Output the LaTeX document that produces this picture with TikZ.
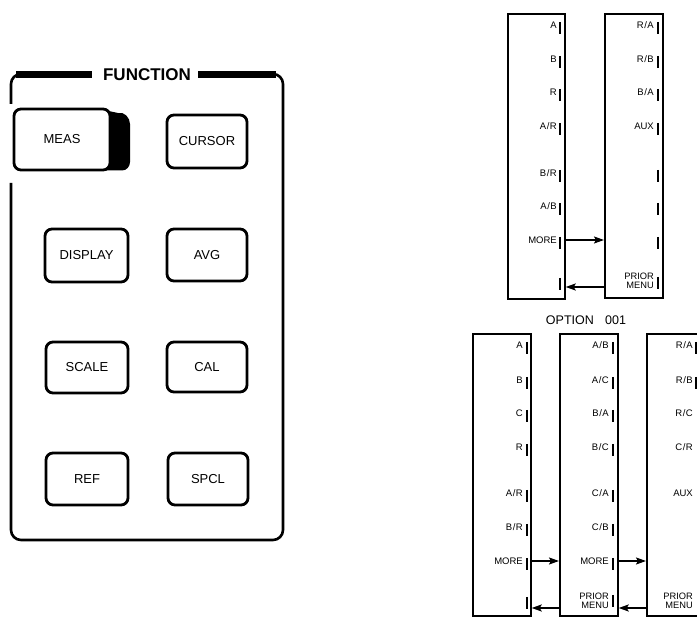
\documentclass[tikz,border=0pt]{standalone}
\usepackage{fontspec}
\setmainfont{Liberation Sans}
\usetikzlibrary{arrows.meta}
\tikzset{
  keybox/.style={draw, line width=2.8pt, rounded corners=7pt, fill=white, inner sep=0pt,
    font=\fontsize{13}{14}\selectfont},
  framepath/.style={line width=2.6pt, rounded corners=10pt},
  framebar/.style={line width=7pt},
  menubox/.style={draw, line width=1.7pt, inner sep=0pt, anchor=north west},
  lbl/.style={anchor=east, inner sep=0pt, font=\fontsize{9.5}{10}\selectfont},
  lbl2/.style={anchor=east, inner sep=0pt, align=right, font=\fontsize{9.3}{9.5}\selectfont},
  tick/.style={line width=1.1pt},
  arr/.style={line width=1.8pt, -{Stealth[length=10pt,width=7pt,inset=2pt]}},
}
\newcommand{\mysl}{\kern0.5pt/\kern0.5pt}
\begin{document}
\begin{tikzpicture}[x=1pt,y=-1pt]
\useasboundingbox (0,0) rectangle (697,617);
\begin{scope}
\clip (0,0) rectangle (697,617);
% ---------- FUNCTION panel ----------
\node[font=\bfseries\fontsize{17}{18}\selectfont, inner sep=1pt] (fn) at (147,75) {FUNCTION};
\draw[framepath] (88,74) -- (11,74) -- (11,104);
\draw[framepath] (205,74) -- (283,74) -- (283,540) -- (11,540) -- (11,183);
\draw[framebar] (fn.west) ++(-10,0) -- (16,75);
\draw[framebar] (fn.east) ++(6,0) -- (276,75);
% MEAS key with dark side
\fill (104,110) -- (118,113) to[out=15,in=90] (130,124) -- (130,162) to[out=-90,in=0] (122,170.5) -- (104,170.5) -- cycle;
\node[keybox, minimum width=96pt, minimum height=61pt] (meas) at (62,139.5) {MEAS};
\node[keybox, minimum width=80pt, minimum height=53pt] (cursor) at (207,141.5) {CURSOR};
\node[keybox, minimum width=83pt, minimum height=53pt] (display) at (86.5,255.5) {DISPLAY};
\node[keybox, minimum width=80pt, minimum height=52pt] (avg) at (207,255) {AVG};
\node[keybox, minimum width=82pt, minimum height=51pt] (scale) at (87,367.5) {SCALE};
\node[keybox, minimum width=80pt, minimum height=50pt] (cal) at (207,367) {CAL};
\node[keybox, minimum width=82pt, minimum height=52pt] (ref) at (87,479) {REF};
\node[keybox, minimum width=80pt, minimum height=52pt] (spcl) at (208,479) {SPCL};

% ---------- upper menus ----------
\node[menubox, minimum width=57pt, minimum height=285pt] (m1) at (507,13) {};
\node[menubox, minimum width=58pt, minimum height=284pt] (m2) at (604,13) {};
% menu 1 labels
\foreach \t/\y/\n in {A/25/a1, B/59/a2, R/92/a3, {A\mysl R}/126/a4, {B\mysl R}/173/a5, {A\mysl B}/206/a6, MORE/240/a7}{
  \node[lbl] (\n) at (557,\y) {\t};
}
\foreach \y in {25,59,92,126,173,206,240,281}{ \draw[tick] (560,\y-3) -- (560,\y+9); }
\coordinate (r1) at (560,287);
% menu 2 labels
\foreach \t/\y/\n in {{R\mysl A}/25/b1, {R\mysl B}/59/b2, {B\mysl A}/92/b3, AUX/126/b4}{
  \node[lbl] (\n) at (654,\y) {\t};
}
\node[lbl2] (b8) at (654,281) {PRIOR\\MENU};
\foreach \y in {25,59,92,126,173,206,240,280}{ \draw[tick] (658,\y-3) -- (658,\y+9); }
\draw[arr] (a7 -| m1.east) -- (a7 -| m2.west);
\draw[arr] (r1 -| m2.west) -- (r1 -| m1.east);

\node[font=\fontsize{12.5}{13}\selectfont] (opt) at (586,320) {OPTION\hspace{0.9em}001};

% ---------- lower menus ----------
\node[menubox, minimum width=58pt, minimum height=282pt] (n1) at (472,333) {};
\node[menubox, minimum width=58pt, minimum height=282pt] (n2) at (559,333) {};
\node[menubox, minimum width=60pt, minimum height=282pt] (n3) at (646,333) {};
\foreach \t/\y/\n in {A/345/c1, B/380/c2, C/413/c3, R/447/c4, {A\mysl R}/493/c5, {B\mysl R}/527/c6, MORE/561/c7}{
  \node[lbl] (\n) at (523,\y) {\t};
}
\foreach \y in {345,380,413,447,493,527,561,600}{ \draw[tick] (527,\y-3) -- (527,\y+9); }
\coordinate (r2) at (527,608);
\foreach \t/\y/\n in {{A\mysl B}/345/d1, {A\mysl C}/380/d2, {B\mysl A}/413/d3, {B\mysl C}/447/d4, {C\mysl A}/493/d5, {C\mysl B}/527/d6, MORE/561/d7}{
  \node[lbl] (\n) at (609,\y) {\t};
}
\node[lbl2] (d8) at (609,601) {PRIOR\\MENU};
\foreach \y in {345,380,413,447,493,527,561,598}{ \draw[tick] (613,\y-3) -- (613,\y+9); }
\foreach \t/\y/\n in {{R\mysl A}/345/e1, {R\mysl B}/380/e2, {R\mysl C}/413/e3, {C\mysl R}/447/e4, AUX/493/e5}{
  \node[lbl] (\n) at (693,\y) {\t};
}
\node[lbl2] (e8) at (693,601) {PRIOR\\MENU};
\foreach \y in {345,380}{ \draw[tick] (696,\y-3) -- (696,\y+9); }
\draw[arr] (c7 -| n1.east) -- (c7 -| n2.west);
\draw[arr] (r2 -| n2.west) -- (r2 -| n1.east);
\draw[arr] (d7 -| n2.east) -- (d7 -| n3.west);
\draw[arr] (r2 -| n3.west) -- (r2 -| n2.east);
\end{scope}
\end{tikzpicture}
\end{document}
